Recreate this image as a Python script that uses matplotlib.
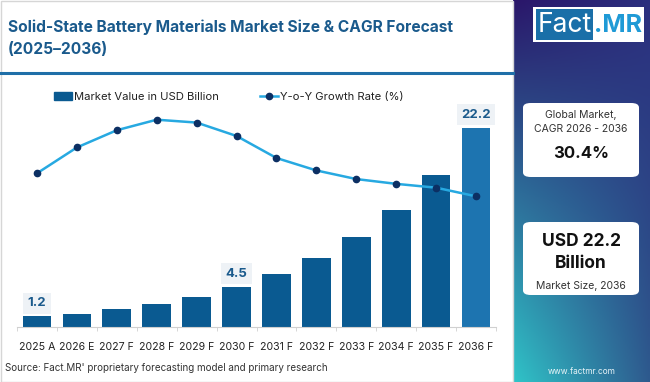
import numpy as np
import matplotlib
matplotlib.use("Agg")
import matplotlib.pyplot as plt
from matplotlib.patches import Rectangle, FancyBboxPatch
from matplotlib.lines import Line2D
from matplotlib.colors import to_rgb

# data
years = ["2025 A", "2026 E", "2027 F", "2028 F", "2029 F", "2030 F",
         "2031 F", "2032 F", "2033 F", "2034 F", "2035 F", "2036 F"]
market_value = [1.2, 1.5, 2.0, 2.6, 3.4, 4.5, 5.9, 7.7, 10.0, 13.0, 17.0, 22.2]
yoy_growth = [30.4, 33.1, 34.9, 36.0, 35.7, 34.3, 32.0, 30.7, 29.8, 29.3, 28.9, 28.0]
labelled = {0: "1.2", 5: "4.5", 11: "22.2"}

plt.rcParams['font.family'] = ['Inter', 'DejaVu Sans']

W, H = 650, 382
fig = plt.figure(figsize=(W / 100, H / 100), dpi=100)

def fx(px):
    return px / W

def fy(py):
    return 1 - py / H

# frame of white area
fig.patches.append(Rectangle((fx(0.5), fy(381.5)), fx(512), 381 / H, transform=fig.transFigure,
                             fill=False, edgecolor="#d6d6d6", lw=1))

# title
fig.text(fx(8), fy(27), "Solid-State Battery Materials Market Size & CAGR Forecast",
         fontsize=11.2, fontweight="bold", color="#1a5a8c", va="center", ha="left")
fig.text(fx(8), fy(50), "(2025\u20132036)",
         fontsize=11.2, fontweight="bold", color="#1a5a8c", va="center", ha="left")
fig.add_artist(Line2D([0, fx(513)], [fy(73), fy(73)], transform=fig.transFigure,
                      color="#1f6fa8", lw=2.2))

# main chart
ax = fig.add_axes([fx(17), fy(327), fx(496 - 17), (327 - 100) / H])
x = np.arange(len(years))
colors = ["#0a5a91"] * (len(years) - 1) + ["#1d74b0"]
bars = ax.bar(x, market_value, width=0.72, color=colors, zorder=2)
ax.set_xlim(-0.5, len(years) - 0.5)
ax.set_ylim(0, 227 / 8.97)
for s in ["top", "right", "left"]:
    ax.spines[s].set_visible(False)
ax.spines["bottom"].set_color("#d0d0d0")
ax.set_yticks([])
ax.set_xticks(x)
ax.set_xticklabels(years, fontsize=7.6, color="#222222")
ax.tick_params(axis="x", which="major", length=0, pad=11)
ax.set_xticks(np.arange(-0.5, len(years)), minor=True)
ax.tick_params(axis="x", which="minor", length=3, color="#d0d0d0")
ax.patch.set_alpha(0)

for i, txt in labelled.items():
    ax.text(i, market_value[i] + 1.45, txt, ha="center", va="center", fontsize=9.5,
            fontweight="bold", color="#1a5a8c",
            bbox=dict(boxstyle="square,pad=0.35", fc="#eef2f6", ec="none"))

ax2 = ax.twinx()
ax2.set_ylim(14.35, 14.35 + 227 / 9.575)
ax2.plot(x, yoy_growth, color="#27a9e1", lw=1.8, marker="o", ms=4.5,
         mfc="#0c2f63", mec="#0c2f63", zorder=3)
ax2.axis("off")

handles = [Rectangle((0, 0), 1, 1, color="#0a5a91"),
           Line2D([], [], color="#27a9e1", lw=1.8, marker="o", ms=4.5,
                  mfc="#0c2f63", mec="#0c2f63")]
fig.legend(handles, ["Market Value in USD Billion", "Y-o-Y Growth Rate (%)"],
           loc="center left", bbox_to_anchor=(fx(44), fy(97)), ncol=2, frameon=False,
           fontsize=8.1, handlelength=1.6, handletextpad=0.2, columnspacing=3.6,
           labelcolor="#222222")

fig.text(fx(5), fy(368), "Source: Fact.MR' proprietary forecasting model and primary research",
         fontsize=7.1, color="#333333", va="center", ha="left")

# right side panel with gradient
pax = fig.add_axes([fx(513), 0, fx(W - 513), 1])
tl, tr = np.array(to_rgb("#2a166a")), np.array(to_rgb("#2b2f7e"))
bl, br = np.array(to_rgb("#30c4c8")), np.array(to_rgb("#2e5a8e"))
v = np.linspace(0, 1, 200)[:, None, None]
h = np.linspace(0, 1, 60)[None, :, None]
img = (1 - v) * ((1 - h) * tl + h * tr) + v * ((1 - h) * bl + h * br)
pax.imshow(img, aspect="auto", extent=[0, 1, 0, 1], origin="upper")
pax.set_xlim(0, 1)
pax.set_ylim(0, 1)
pax.axis("off")

# logo
fig.patches.append(Rectangle((fx(533), fy(42)), fx(111), 35 / H, transform=fig.transFigure,
                             fc="white", ec="none"))
fig.patches.append(Rectangle((fx(536), fy(40)), fx(57), 31 / H, transform=fig.transFigure,
                             fc="#1a6fa8", ec="none"))
fig.text(fx(564.5), fy(25), "Fact", fontsize=19, color="white", ha="center", va="center")
fig.text(fx(618), fy(25), ".MR", fontsize=18, fontweight="bold", color="#1f9ad6",
         ha="center", va="center")

# info boxes
for top, bottom in [(103, 177), (222, 295)]:
    fig.patches.append(FancyBboxPatch((fx(523), fy(bottom)), fx(116), (bottom - top) / H,
                                      boxstyle="round,pad=0,rounding_size=0.012",
                                      transform=fig.transFigure, fc="white", ec="none"))
fig.text(fx(581), fy(115), "Global Market,", fontsize=7.5, color="#333333", ha="center", va="center")
fig.text(fx(581), fy(129), "CAGR 2026 - 2036", fontsize=7.5, color="#333333", ha="center", va="center")
fig.text(fx(581), fy(153), "30.4%", fontsize=12, fontweight="bold", color="#111111",
         ha="center", va="center")
fig.text(fx(581), fy(241), "USD 22.2", fontsize=12.5, fontweight="bold", color="#111111",
         ha="center", va="center")
fig.text(fx(581), fy(264), "Billion", fontsize=12.5, fontweight="bold", color="#111111",
         ha="center", va="center")
fig.text(fx(581), fy(286), "Market Size, 2036", fontsize=7.5, color="#333333", ha="center", va="center")
fig.text(fx(582), fy(372), "www.factmr.com", fontsize=6, color="#e8f4f8", ha="center", va="center")

fig.savefig("out.png", dpi=100)
